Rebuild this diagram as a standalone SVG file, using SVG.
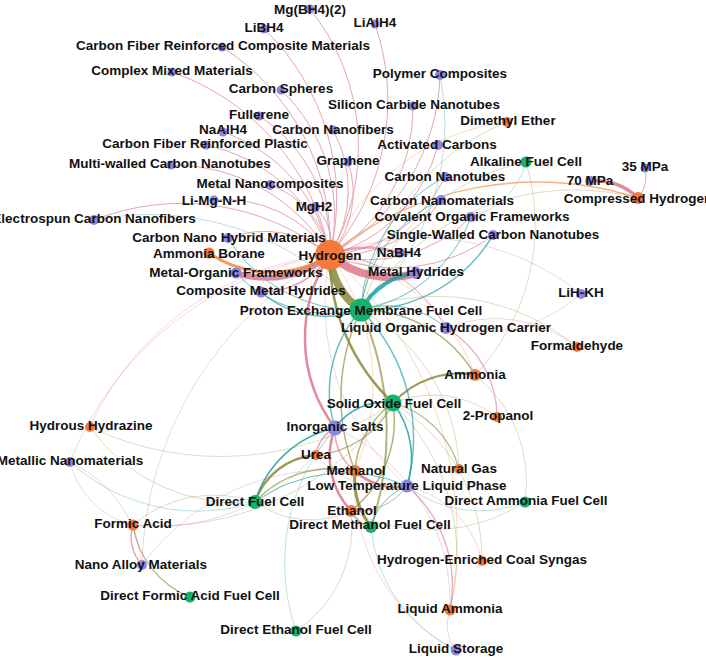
<svg xmlns="http://www.w3.org/2000/svg" width="706" height="658" viewBox="0 0 706 658">
<style>
.e path{fill:none}
.p{stroke:#d9778b}
.o{stroke:#8a8a3a}
.t{stroke:#1a9fa0}
.r{stroke:#f5843e}
.f{opacity:.3;stroke-width:1}
.m{opacity:.65}
.k{opacity:.85}
.pu{fill:#8d85e3}
.or{fill:#f4793b}
.gr{fill:#13b36b}
text{font-family:"Liberation Sans",Arial,sans-serif;font-weight:bold;font-size:13.5px;fill:#111;text-anchor:middle}
</style>
<rect width="706" height="658" fill="#fff"/>
<g id="connectors" class="e">
<path class="p f" d="M330 255A254 254 0 0 1 581 294"/>
<path class="p f" d="M330 255A295 295 0 0 0 90 427"/>
<path class="p f" d="M330 255A332 332 0 0 0 70 462"/>
<path class="p f" d="M330 255A363 363 0 0 0 142 565"/>
<path class="p f" d="M330 255A243 243 0 0 0 407 486"/>
<path class="r f" d="M330 255A221 221 0 0 1 507 122"/>
<path class="r f" d="M330 255A217 217 0 0 1 355 471"/>
<path class="r f" d="M330 255A188 188 0 0 1 475 375"/>
<path class="r f" d="M330 255A375 375 0 0 1 450 610"/>
<path class="o f" d="M393 403A104 104 0 0 1 497 417"/>
<path class="o f" d="M393 403A181 181 0 0 1 482 561"/>
<path class="o f" d="M393 403A215 215 0 0 1 450 610"/>
<path class="o f" d="M393 403A287 287 0 0 1 133 525"/>
<path class="o f" d="M393 403A304 304 0 0 1 90 427"/>
<path class="o f" d="M361 310A186 186 0 0 1 459 469"/>
<path class="o f" d="M361 310A219 219 0 0 1 577 347"/>
<path class="o f" d="M361 310A239 239 0 0 1 507 122"/>
<path class="o f" d="M361 310A250 250 0 0 1 638 198"/>
<path class="o f" d="M361 310A221 221 0 0 1 526 162"/>
<path class="o f" d="M526 162A218 218 0 0 1 475 375"/>
<path class="o f" d="M255 502A96 96 0 0 0 351 511"/>
<path class="o f" d="M255 502A181 181 0 0 1 90 427"/>
<path class="o f" d="M255 502A124 124 0 0 0 133 525"/>
<path class="o f" d="M475 375A136 136 0 0 1 525 502"/>
<path class="o f" d="M351 511A174 174 0 0 0 525 502"/>
<path class="o f" d="M296 631A125 125 0 0 0 351 511"/>
<path class="t f" d="M361 310A248 248 0 0 0 440 75"/>
<path class="t f" d="M361 310A282 282 0 0 0 94 220"/>
<path class="t f" d="M255 502A189 189 0 0 1 70 462"/>
<path class="t f" d="M296 631A207 207 0 0 1 335 428"/>
<path class="t f" d="M371 527A150 150 0 0 0 456 650"/>
<path class="t f" d="M407 486A119 119 0 0 0 525 502"/>
<path class="t f" d="M526 162A77 77 0 0 1 471 217"/>
<path class="p f" d="M316 455A95 95 0 0 0 407 486"/>
<path class="p f" d="M407 486A100 100 0 0 1 482 561"/>
<path class="p f" d="M446 328A132 132 0 0 1 577 347"/>
<path class="p f" d="M581 294A150 150 0 0 1 446 328"/>
<path class="p f" d="M70 462A125 125 0 0 1 142 565"/>
<path class="p f" d="M142 565A233 233 0 0 1 355 471"/>
<path class="p f" d="M133 525A86 86 0 0 1 70 462"/>
<path class="p f" d="M355 471A190 190 0 0 0 456 650"/>
<path class="p f" d="M335 428A190 190 0 0 1 450 610"/>
<path class="p f" d="M450 610A40 40 0 0 0 456 650"/>
<path class="p f" d="M133 525A210 210 0 0 0 335 428"/>

<g class="p m" stroke-width="1">
<path d="M330 255A220 220 0 0 0 310 9"/>
<path d="M330 255A235 235 0 0 0 375 24"/>
<path d="M330 255A236 236 0 0 0 264 29"/>
<path d="M330 255A234 234 0 0 0 222 47"/>
<path d="M330 255A242 242 0 0 0 172 72"/>
<path d="M330 255A172 172 0 0 0 281 90"/>
<path d="M330 255A170 170 0 0 0 413 106"/>
<path d="M330 255A156 156 0 0 0 259 116"/>
<path d="M330 255A163 163 0 0 0 223 132"/>
<path d="M330 255A125 125 0 0 0 333 130"/>
<path d="M330 255A166 166 0 0 0 206 145"/>
<path d="M330 255A154 154 0 0 0 438 145"/>
<path d="M330 255A183 183 0 0 0 171 165"/>
<path d="M330 255A95 95 0 0 0 348 162"/>
<path d="M330 255A139 139 0 0 0 445 177"/>
<path d="M330 255A92 92 0 0 0 270 185"/>
<path d="M330 255A124 124 0 0 0 441 200"/>
<path d="M330 255A128 128 0 0 0 214 200"/>
<path d="M330 255A50 50 0 0 0 315 207"/>
<path d="M330 255A146 146 0 0 0 471 217"/>
<path d="M330 255A239 239 0 0 0 94 220"/>
<path d="M330 255A164 164 0 0 0 493 235"/>
<path d="M330 255A103 103 0 0 0 228 238"/>
<path d="M330 255A211 211 0 0 0 440 75"/>
<path d="M330 255A137 137 0 0 1 446 328"/>
</g>

<path class="o k" stroke-width="2.5" d="M330 255A200 200 0 0 0 393 403"/>
<path class="o m" stroke-width="2" d="M361 310A300 300 0 0 1 371 527"/>
<path class="o m" stroke-width="1.5" d="M361 310A200 200 0 0 0 355 471"/>
<path class="o k" stroke-width="2" d="M393 403A90 90 0 0 1 475 375"/>
<path class="o m" stroke-width="1.5" d="M393 403A90 90 0 0 0 355 471"/>
<path class="o m" stroke-width="1.2" d="M393 403A93 93 0 0 1 316 455"/>
<path class="o m" stroke-width="1.5" d="M393 403A116 116 0 0 1 351 511"/>
<path class="o m" stroke-width="1.2" d="M393 403A93 93 0 0 1 459 469"/>
<path class="o m" stroke-width="1.5" d="M361 310A131 131 0 0 1 475 375"/>
<path class="o k" stroke-width="2.5" d="M255 502A70 70 0 0 1 316 455"/>
<path class="o m" stroke-width="1.5" d="M255 502A105 105 0 0 1 355 471"/>
<path class="o k" stroke-width="3" d="M355 471A80 80 0 0 0 371 527"/>
<path class="o m" stroke-width="1.5" d="M351 511A30 30 0 0 0 371 527"/>
<path class="o m" stroke-width="1.2" d="M133 525A92 92 0 0 0 190 597"/>

<path class="t m" stroke-width="1.5" d="M361 310A152 152 0 0 0 493 235"/>
<path class="t m" stroke-width="1" d="M361 310A157 157 0 0 1 445 177"/>
<path class="t m" stroke-width="1" d="M361 310A144 144 0 0 0 471 217"/>
<path class="t m" stroke-width="1" d="M361 310A136 136 0 0 1 441 200"/>
<path class="t m" stroke-width="1.5" d="M361 310A100 100 0 0 1 261 292"/>
<path class="t m" stroke-width="1" d="M361 310A130 130 0 0 1 236 273"/>
<path class="t m" stroke-width="1" d="M361 310A151 151 0 0 1 228 238"/>
<path class="t m" stroke-width="1" d="M361 310A87 87 0 0 1 446 328"/>
<path class="t m" stroke-width="1.5" d="M361 310A121 121 0 0 0 335 428"/>
<path class="t m" stroke-width="1.5" d="M361 310A182 182 0 0 1 407 486"/>
<path class="t k" stroke-width="1.5" d="M393 403A60 60 0 0 0 335 428"/>
<path class="t k" stroke-width="1.5" d="M393 403A90 90 0 0 1 407 486"/>
<path class="t k" stroke-width="1.5" d="M255 502A108 108 0 0 1 335 428"/>
<path class="t m" stroke-width="1" d="M255 502A153 153 0 0 1 407 486"/>
<path class="t m" stroke-width="1" d="M371 527A60 60 0 0 1 407 486"/>

<path class="p m" stroke-width="2.5" d="M330 255A100 100 0 0 1 400 253"/>
<path class="p m" stroke-width="1.5" d="M330 255A80 80 0 0 1 261 292"/>
<path class="p k" stroke-width="2.5" d="M330 255A150 150 0 0 0 335 428"/>
<path class="p m" stroke-width="1" d="M638 198A35 35 0 0 0 645 168"/>
<path class="p k" stroke-width="2.5" d="M335 428A80 80 0 0 0 351 511"/>
<path class="p m" stroke-width="1.5" d="M335 428A50 50 0 0 0 355 471"/>
<path class="p m" stroke-width="1.5" d="M335 428A35 35 0 0 0 316 455"/>
<path class="p k" stroke-width="2.5" d="M355 471A60 60 0 0 0 407 486"/>
<path class="p m" stroke-width="1" d="M351 511A61 61 0 0 0 407 486"/>
<path class="p m" stroke-width="1.2" d="M407 486A131 131 0 0 1 450 610"/>
<path class="p m" stroke-width="1.2" d="M446 328A103 103 0 0 1 497 417"/>
<path class="p m" stroke-width="1.5" d="M133 525A41 41 0 0 0 142 565"/>
<path class="r m" stroke-width="1.5" d="M330 255A330 330 0 0 1 638 198"/>

<path class="p k" stroke-width="6" d="M330 255A100 100 0 0 1 236 273"/>
<path class="p k" stroke-width="8" d="M330 255A90 90 0 0 0 416 273"/>
<path class="p k" stroke-width="3.5" d="M638 198A60 60 0 0 0 590 181"/>
<path class="r k" stroke-width="3" d="M330 255A110 110 0 0 1 209 253"/>
<path class="o k" stroke-width="8" d="M330 255A70 70 0 0 0 361 310"/>
<path class="t k" stroke-width="4" d="M361 310A70 70 0 0 1 416 273"/>
</g>

<g id="n-hydrogen"><circle class="or" cx="330" cy="255" r="15"/><text x="330" y="260">Hydrogen</text></g>
<g id="n-pemfc"><circle class="gr" cx="361" cy="310" r="11.5"/><text x="361" y="315">Proton Exchange Membrane Fuel Cell</text></g>
<g id="n-sofc"><circle class="gr" cx="393" cy="403" r="8.5"/><text x="394" y="408">Solid Oxide Fuel Cell</text></g>
<g id="n-inorganic-salts"><circle class="pu" cx="335" cy="428" r="7.5"/><text x="335" y="431">Inorganic Salts</text></g>
<g id="n-direct-fuel-cell"><circle class="gr" cx="255" cy="502" r="7"/><text x="255" y="506">Direct Fuel Cell</text></g>
<g id="n-methanol"><circle class="or" cx="355" cy="471" r="6"/><text x="356" y="475">Methanol</text></g>
<g id="n-ethanol"><circle class="or" cx="351" cy="511" r="6"/><text x="352" y="515">Ethanol</text></g>
<g id="n-dmfc"><circle class="gr" cx="371" cy="527" r="6"/><text x="370" y="529">Direct Methanol Fuel Cell</text></g>
<g id="n-low-temp"><circle class="pu" cx="407" cy="486" r="6.5"/><text x="407" y="490">Low Temperature Liquid Phase</text></g>
<g id="n-urea"><circle class="or" cx="316" cy="455" r="5"/><text x="316" y="459">Urea</text></g>
<g id="n-natural-gas"><circle class="or" cx="459" cy="469" r="5"/><text x="459" y="473">Natural Gas</text></g>
<g id="n-dafc"><circle class="gr" cx="525" cy="502" r="5.5"/><text x="526" y="505">Direct Ammonia Fuel Cell</text></g>
<g id="n-hecs"><circle class="or" cx="482" cy="561" r="5"/><text x="482" y="564">Hydrogen-Enriched Coal Syngas</text></g>
<g id="n-liquid-ammonia"><circle class="or" cx="450" cy="610" r="5.5"/><text x="450" y="613">Liquid Ammonia</text></g>
<g id="n-liquid-storage"><circle class="pu" cx="456" cy="650" r="5.5"/><text x="456" y="653">Liquid Storage</text></g>
<g id="n-defc"><circle class="gr" cx="296" cy="631" r="5.5"/><text x="296" y="634">Direct Ethanol Fuel Cell</text></g>
<g id="n-dfafc"><circle class="gr" cx="190" cy="597" r="5.5"/><text x="190" y="600">Direct Formic Acid Fuel Cell</text></g>
<g id="n-nano-alloy"><circle class="pu" cx="142" cy="565" r="5"/><text x="141" y="569">Nano Alloy Materials</text></g>
<g id="n-formic-acid"><circle class="or" cx="133" cy="525" r="5.5"/><text x="133" y="528">Formic Acid</text></g>
<g id="n-metallic"><circle class="pu" cx="70" cy="462" r="5"/><text x="70" y="465">Metallic Nanomaterials</text></g>
<g id="n-hydrous-hydrazine"><circle class="or" cx="90" cy="427" r="5"/><text x="91" y="430">Hydrous Hydrazine</text></g>
<g id="n-2-propanol"><circle class="or" cx="497" cy="417" r="5"/><text x="498" y="420">2-Propanol</text></g>
<g id="n-ammonia"><circle class="or" cx="475" cy="375" r="6"/><text x="475" y="379">Ammonia</text></g>
<g id="n-formaldehyde"><circle class="or" cx="577" cy="347" r="5"/><text x="577" y="350">Formaldehyde</text></g>
<g id="n-lohc"><circle class="pu" cx="446" cy="328" r="6"/><text x="446" y="332">Liquid Organic Hydrogen Carrier</text></g>
<g id="n-lih-kh"><circle class="pu" cx="581" cy="294" r="5"/><text x="581" y="297">LiH-KH</text></g>
<g id="n-composite-mh"><circle class="pu" cx="261" cy="292" r="5.5"/><text x="261" y="295">Composite Metal Hydrides</text></g>
<g id="n-metal-hydrides"><circle class="pu" cx="416" cy="273" r="6"/><text x="416" y="276">Metal Hydrides</text></g>
<g id="n-mof"><circle class="pu" cx="236" cy="273" r="5.5"/><text x="236" y="277">Metal-Organic Frameworks</text></g>
<g id="n-nabh4"><circle class="pu" cx="400" cy="253" r="5"/><text x="399" y="257">NaBH4</text></g>
<g id="n-ammonia-borane"><circle class="or" cx="209" cy="253" r="5.5"/><text x="209" y="258">Ammonia Borane</text></g>
<g id="n-cnhm"><circle class="pu" cx="228" cy="238" r="5"/><text x="229" y="242">Carbon Nano Hybrid Materials</text></g>
<g id="n-swcnt"><circle class="pu" cx="493" cy="235" r="5"/><text x="493" y="239">Single-Walled Carbon Nanotubes</text></g>
<g id="n-electrospun"><circle class="pu" cx="94" cy="220" r="5"/><text x="94" y="223">Electrospun Carbon Nanofibers</text></g>
<g id="n-cof"><circle class="pu" cx="471" cy="217" r="5"/><text x="472" y="221">Covalent Organic Frameworks</text></g>
<g id="n-mgh2"><circle class="pu" cx="315" cy="207" r="5"/><text x="314" y="211">MgH2</text></g>
<g id="n-li-mg-n-h"><circle class="pu" cx="214" cy="200" r="4.5"/><text x="214" y="205">Li-Mg-N-H</text></g>
<g id="n-carbon-nanomaterials"><circle class="pu" cx="441" cy="200" r="5"/><text x="442" y="205">Carbon Nanomaterials</text></g>
<g id="n-compressed-hydrogen"><circle class="or" cx="638" cy="198" r="6"/><text x="638" y="203">Compressed Hydrogen</text></g>
<g id="n-metal-nanocomposites"><circle class="pu" cx="270" cy="185" r="5"/><text x="270" y="188">Metal Nanocomposites</text></g>
<g id="n-70mpa"><circle class="pu" cx="590" cy="181" r="5"/><text x="590" y="185">70 MPa</text></g>
<g id="n-cnt"><circle class="pu" cx="445" cy="177" r="5"/><text x="445" y="181">Carbon Nanotubes</text></g>
<g id="n-35mpa"><circle class="pu" cx="645" cy="168" r="4.5"/><text x="645" y="171">35 MPa</text></g>
<g id="n-mwcnt"><circle class="pu" cx="171" cy="165" r="4.5"/><text x="170" y="168">Multi-walled Carbon Nanotubes</text></g>
<g id="n-alkaline"><circle class="gr" cx="526" cy="162" r="5.5"/><text x="526" y="166">Alkaline Fuel Cell</text></g>
<g id="n-graphene"><circle class="pu" cx="348" cy="162" r="4.5"/><text x="348" y="165">Graphene</text></g>
<g id="n-activated-carbons"><circle class="pu" cx="438" cy="145" r="5"/><text x="437" y="149">Activated Carbons</text></g>
<g id="n-cfrp"><circle class="pu" cx="206" cy="145" r="4.5"/><text x="205" y="148">Carbon Fiber Reinforced Plastic</text></g>
<g id="n-naalh4"><circle class="pu" cx="223" cy="132" r="4.5"/><text x="223" y="134">NaAlH4</text></g>
<g id="n-cnf"><circle class="pu" cx="333" cy="130" r="4.5"/><text x="333" y="134">Carbon Nanofibers</text></g>
<g id="n-dme"><circle class="or" cx="507" cy="122" r="5"/><text x="508" y="125">Dimethyl Ether</text></g>
<g id="n-fullerene"><circle class="pu" cx="259" cy="116" r="4.5"/><text x="259" y="119">Fullerene</text></g>
<g id="n-silicon-carbide"><circle class="pu" cx="413" cy="106" r="4.5"/><text x="414" y="109">Silicon Carbide Nanotubes</text></g>
<g id="n-carbon-spheres"><circle class="pu" cx="281" cy="90" r="4.5"/><text x="281" y="93">Carbon Spheres</text></g>
<g id="n-polymer-composites"><circle class="pu" cx="440" cy="75" r="5"/><text x="440" y="78">Polymer Composites</text></g>
<g id="n-complex-mixed"><circle class="pu" cx="172" cy="72" r="4.5"/><text x="172" y="75">Complex Mixed Materials</text></g>
<g id="n-cfrcm"><circle class="pu" cx="222" cy="47" r="4.5"/><text x="223" y="50">Carbon Fiber Reinforced Composite Materials</text></g>
<g id="n-libh4"><circle class="pu" cx="264" cy="29" r="4.5"/><text x="264" y="32">LiBH4</text></g>
<g id="n-lialh4"><circle class="pu" cx="375" cy="24" r="4.5"/><text x="375" y="27">LiAlH4</text></g>
<g id="n-mgbh42"><circle class="pu" cx="310" cy="9" r="4.5"/><text x="310" y="14">Mg(BH4)(2)</text></g>
</svg>
